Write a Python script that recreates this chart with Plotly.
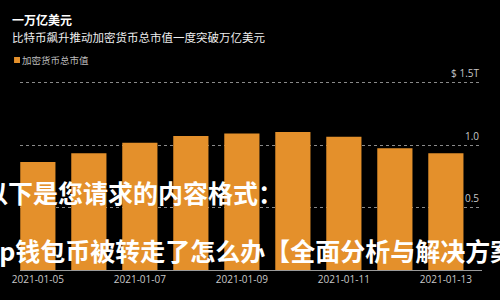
import plotly.graph_objects as go

# ---- data ----
dates = ["2021-01-05", "2021-01-06", "2021-01-07", "2021-01-08", "2021-01-09",
         "2021-01-10", "2021-01-11", "2021-01-12", "2021-01-13"]
market_cap_trillion = [0.865, 0.935, 1.02, 1.073, 1.094, 1.105, 1.067, 0.976, 0.935]
series_name = "加密货币总市值"
y_tick_vals = [0.5, 1.0, 1.5]
y_tick_text = ["0.5", "1.0", "$ 1.5T"]
title_text = "一万亿美元"
subtitle_text = "比特币飙升推动加密货币总市值一度突破万亿美元"
overlay_lines = ["以下是您请求的内容格式：", "tp钱包币被转走了怎么办【全面分析与解决方案"]

W, H = 500, 300
L, R, T, B = 16, 18, 64, 30
PW, PH = W - L - R, H - T - B
Y_TOP = 1.65


def py(y):
    return (H - B - y) / PH


ORANGE = "#E4902B"
CJK = "Noto Sans CJK SC"

fig = go.Figure()
fig.add_trace(go.Bar(x=dates, y=market_cap_trillion, name=series_name,
                     marker=dict(color=ORANGE, line=dict(width=0)),
                     showlegend=False))

# overlay caption text (watermark-like caption laid over the chart), placed
# on a hidden pixel-unit overlay axis; centred so it can run past the edges
fig.add_trace(go.Scatter(
    x=[130, 250], y=[197, 255], text=overlay_lines, mode="text",
    textposition="middle center", cliponaxis=False, hoverinfo="skip",
    textfont=dict(family=CJK, size=25, color="#ffffff", weight="bold"),
    xaxis="x2", yaxis="y2", showlegend=False))

fig.update_layout(
    width=W, height=H,
    margin=dict(l=L, r=R, t=T, b=B),
    paper_bgcolor="#000000", plot_bgcolor="#000000",
    bargap=0.31,
    font=dict(family="Open Sans, " + CJK, color="#cccccc", size=10),
    xaxis=dict(
        type="date",
        range=["2021-01-04 15:36", "2021-01-13 17:00"],
        tick0="2021-01-05", dtick=2 * 86400000, tickformat="%Y-%m-%d",
        showgrid=False, showline=True, linecolor="#9a9a9a", linewidth=1,
        ticks="", tickfont=dict(size=10, color="#c8c8c8"),
        zeroline=False, fixedrange=True,
    ),
    yaxis=dict(
        range=[0, Y_TOP], side="right",
        tickvals=y_tick_vals, ticktext=y_tick_text,
        ticklabelposition="inside", ticklabelshift=-9,
        showgrid=True, gridcolor="#8a8a8a", griddash="dot", gridwidth=1,
        zeroline=False, showline=False, ticks="",
        tickfont=dict(size=10, color="#c8c8c8"),
        fixedrange=True,
    ),
    xaxis2=dict(overlaying="x", range=[L, W - R], visible=False, fixedrange=True),
    yaxis2=dict(overlaying="y", range=[H - B, T], visible=False, fixedrange=True),
)


def note(text, xpix, ypix, size, color, bold=False):
    return dict(text=("<b>" + text + "</b>") if bold else text,
                x=0, xshift=xpix - L, y=py(ypix), xref="paper", yref="paper",
                xanchor="left", yanchor="middle", showarrow=False,
                font=dict(family=CJK, size=size, color=color))


ann = [
    note(title_text, 6, 19.5, 12, "#ffffff", bold=True),
    note(subtitle_text, 6, 37, 11.5, "#eeeeee"),
    note(series_name, 16, 60, 9.5, "#bbbbbb"),
]
fig.update_layout(annotations=ann)

fig.add_shape(type="rect", xref="paper", yref="paper",
              x0=(10 - L) / PW, x1=(16 - L) / PW, y0=py(63), y1=py(57),
              fillcolor=ORANGE, line=dict(width=0))

fig.write_html("out.html")
